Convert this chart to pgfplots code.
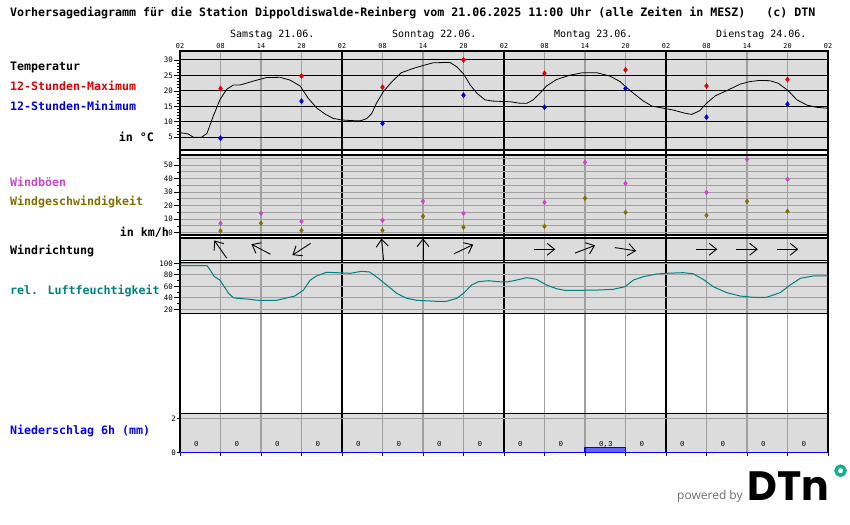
\documentclass[border=0pt]{standalone}
\usepackage{pgfplots}
\pgfplotsset{compat=1.18}
\usepackage{pgfplotstable}
\usepackage{fontspec}
\setmainfont{DejaVu Sans Mono}
\newfontfamily\poweredfont{Open Sans}
\newfontfamily\logofont{Poppins}
\newfontfamily\smallmono{Liberation Mono}
\usetikzlibrary{arrows.meta}

\definecolor{panelgray}{RGB}{220,220,220}
\definecolor{gridgray}{RGB}{160,160,160}
\definecolor{tred}{RGB}{230,0,0}
\definecolor{tblue}{RGB}{0,0,220}
\definecolor{gustmag}{RGB}{204,68,204}
\definecolor{windolive}{RGB}{128,112,0}
\definecolor{humteal}{RGB}{0,128,128}
\definecolor{precblue}{RGB}{0,0,255}
\definecolor{barblue}{RGB}{100,100,255}
\definecolor{dtnteal}{RGB}{20,175,145}
\definecolor{powgray}{RGB}{110,110,110}

\pgfplotstableread{
t T
0 6.5
1.2 6.1
2.0 5.0
3.2 5.0
4.0 6.3
4.9 11.7
5.9 17.1
6.9 20.5
7.9 21.9
8.9 21.9
10.9 23.2
12.8 24.3
14.8 24.4
16.3 23.5
17.8 21.6
19.0 17.6
20.3 14.4
21.5 12.5
22.7 11.1
24.0 10.6
25.5 10.4
26.7 10.3
27.7 11.1
28.4 12.7
29.1 16.0
30.1 19.7
31.4 23.0
32.8 25.9
34.6 27.3
36.0 28.2
37.5 29.1
40.0 29.2
41.0 27.8
42.0 25.5
43.0 21.9
44.0 19.2
45.2 17.1
46.4 16.7
48.9 16.5
50.4 16.0
51.4 16.0
52.3 17.1
53.3 19.2
54.3 21.6
55.8 23.7
57.8 25.1
59.7 25.9
61.7 25.9
63.7 24.8
65.2 23.0
66.2 21.0
67.2 19.2
68.6 16.8
69.9 15.1
71.6 14.4
73.1 13.8
74.8 12.8
75.8 12.4
77.0 13.6
78.0 16.0
79.3 18.4
81.0 20.1
83.0 22.2
84.4 23.0
85.9 23.4
87.4 23.3
88.6 22.5
90.1 20.1
91.4 17.1
92.9 15.4
94.3 14.7
96.0 14.4
}\temptable

\pgfplotstableread{
t max min
6 20.8 4.7
18 24.8 16.7
30 21.2 9.5
42 30.0 18.6
54 25.7 14.7
66 26.8 20.8
78 21.6 11.5
90 23.7 15.7
}\tempmarks

\pgfplotstableread{
t gust speed dir
6 7.0 1.3 125
12 14.4 7.0 152
18 8.4 1.8 213
30 9.2 1.8 95.5
36 23.2 12.1 90
42 14.4 4.0 25.6
54 22.5 4.7 0
60 52.1 25.5 21
66 36.6 15.1 -9
78 29.9 12.9 0
84 54.4 23.2 0
90 39.6 15.9 0
}\windtable

\pgfplotstableread{
t H
0 96
4.0 96
4.4 89.6
5.1 76.7
5.9 71
6.4 62.3
7.2 47.8
7.9 40.2
8.4 39.1
9.9 37.9
11.6 35.6
14.3 35.6
15.8 39.7
17.0 43.1
18.3 53.6
19.3 71
20.3 78.4
21.7 84.3
23.2 83.7
25.2 82.6
26.9 86.1
28.1 84.9
29.4 73.9
30.6 62.3
32.1 47.8
33.6 39.1
35.1 35.6
38.0 33.9
39.5 33.9
41.0 39.1
42.0 47.8
43.2 62.3
44.2 68
45.7 69.7
47.2 68
48.4 67.5
49.4 69.7
51.4 75
52.8 72.2
54.3 62.3
55.8 55.8
57.0 53
59.3 53
62.2 53.6
64.2 54.8
65.9 59.3
67.2 71
68.6 76.7
70.6 81.4
72.1 82.6
74.5 83.7
76.0 81.9
77.5 72.2
79.0 59.3
81.0 48.9
83.0 43.1
84.9 40.9
86.9 40.9
88.9 48.9
90.4 62.3
91.9 73.9
93.8 78
96.0 78
}\humtable

\pgfplotstableread{
t p
0 0
6 0
12 0
18 0
24 0
30 0
36 0
42 0
48 0
54 0
60 0.3
66 0
72 0
78 0
84 0
90 0
96 0
}\prectable

\pgfplotstableread{
t lbl
0 0
6 0
12 0
18 0
24 0
30 0
36 0
42 0
48 0
54 0
60 0,3
66 0
72 0
78 0
84 0
90 0
}\preclabels

\pgfplotsset{
  panel/.style={scale only axis, width=648pt, xmin=0, xmax=96, xtick=\empty,
    anchor=north west, axis line style={black, line width=1.2pt},
    ytick pos=left, tick align=outside, major tick length=6pt, minor tick length=3pt,
    tick style={black, line width=0.8pt},
    yticklabel style={font=\fontsize{7.5}{8}\selectfont, inner sep=1pt},
    /pgf/number format/assume math mode=true},
  vgrid/.style={scale only axis, width=648pt, height=402pt, at={(180pt,-51pt)},
    anchor=north west, xmin=0, xmax=96, ymin=0, ymax=1,
    axis line style={draw=none}, ytick=\empty, major tick length=0pt, xmajorgrids},
}

\begin{document}
\begin{tikzpicture}
\useasboundingbox (0,0) rectangle (850pt,-524pt);
% panel backgrounds
\fill[panelgray] (180pt,-51pt) rectangle (828pt,-150pt);
\fill[panelgray] (180pt,-155pt) rectangle (828pt,-235pt);
\fill[panelgray] (180pt,-238pt) rectangle (828pt,-260.5pt);
\fill[panelgray] (180pt,-262.5pt) rectangle (828pt,-313.5pt);
\fill[panelgray] (180pt,-413.3pt) rectangle (828pt,-452.7pt);

% vertical grid, gray every 6 h with hour labels
\begin{axis}[vgrid, xtick={0,6,...,96},
  xticklabels={02,08,14,20,02,08,14,20,02,08,14,20,02,08,14,20,02},
  xticklabel pos=upper,
  xticklabel style={font=\fontsize{6.8}{7}\selectfont, inner sep=1pt, yshift=1.5pt},
  major grid style={gridgray, line width=1.3pt}]
\end{axis}
% black day separators
\begin{axis}[vgrid, xtick={0,24,...,96}, xticklabels={},
  major grid style={black, line width=1.3pt}]
\end{axis}

% temperature
\begin{axis}[panel, height=99pt, at={(180pt,-51pt)}, ymin=0.9, ymax=32.9,
  ytick={5,10,...,30}, minor y tick num=4, ymajorgrids,
  major grid style={black, line width=1pt}]
\addplot[black, line width=0.8pt] table[x=t, y=T] {\temptable};
\addplot[only marks, mark=diamond*, mark size=2.6pt, color=tred] table[x=t, y=max] {\tempmarks};
\addplot[only marks, mark=diamond*, mark size=2.6pt, color=tblue] table[x=t, y=min] {\tempmarks};
\end{axis}

% wind
\begin{axis}[panel, height=80pt, at={(180pt,-155pt)}, ymin=-1.7, ymax=57.56,
  ytick={0,10,...,50}, minor ytick={5,15,...,55}, ymajorgrids, yminorgrids,
  major grid style={gridgray, line width=1pt}, minor grid style={gridgray, line width=1pt}]
\addplot[only marks, mark=diamond*, mark size=2.4pt, color=gustmag] table[x=t, y=gust] {\windtable};
\addplot[only marks, mark=diamond*, mark size=2.4pt, color=windolive] table[x=t, y=speed] {\windtable};
\end{axis}

% wind direction
\begin{axis}[panel, height=22.5pt, at={(180pt,-238pt)}, ymin=-1.667, ymax=1.667, ytick=\empty]
\addplot[black, line width=0.9pt, -{Straight Barb[length=7.5pt,width=12pt]},
  quiver={u=3.2*cos(\thisrow{dir}), v=3.2*sin(\thisrow{dir})}]
  table[x expr=\thisrow{t}-1.6*cos(\thisrow{dir}), y expr=-1.6*sin(\thisrow{dir})] {\windtable};
\end{axis}

% humidity
\begin{axis}[panel, height=51pt, at={(180pt,-262.5pt)}, ymin=12.7, ymax=101.4,
  ytick={20,40,...,100}, minor ytick={30,50,70,90}, ymajorgrids,
  major grid style={gridgray, line width=1pt}]
\addplot[humteal, line width=1pt] table[x=t, y=H] {\humtable};
\end{axis}

% precipitation
\begin{axis}[panel, height=39.4pt, at={(180pt,-413.3pt)}, ymin=0, ymax=2.29,
  ytick={0,2}, ymajorgrids, major grid style={gridgray, line width=1pt},
  xtick={0,6,...,96}, xticklabels={}, xtick pos=lower, major tick length=3pt,
  xtick style={precblue, line width=1pt}, clip=false]
\addplot[ybar interval, fill=barblue, draw=precblue, line width=1.5pt] table[x=t, y=p] {\prectable};
\addplot[draw=none, mark=none, nodes near coords, point meta=explicit symbolic,
  nodes near coords align={anchor=west},
  every node near coord/.append style={font=\smallmono\fontsize{7.5}{8}\selectfont, inner sep=0pt, black}]
  table[x expr=\thisrow{t}+2.07, y expr=0.48, meta=lbl] {\preclabels};
\end{axis}

% texts
\node[anchor=base west, inner sep=0pt, font=\fontsize{11.63}{13}\selectfont\bfseries]
  at (10pt,-16.7pt) {Vorhersagediagramm für die Station Dippoldiswalde-Reinberg vom 21.06.2025 11:00 Uhr (alle Zeiten in MESZ)\ \ \ (c) DTN};
\foreach \xx/\dd in {230/Samstag 21.06., 392/Sonntag 22.06., 554/Montag 23.06., 716/Dienstag 24.06.}
  \node[anchor=base west, inner sep=0pt, font=\fontsize{10}{11}\selectfont] at (\xx pt,-37.3pt) {\dd};
\begin{scope}[every node/.style={inner sep=0pt, font=\fontsize{11.63}{13}\selectfont\bfseries}]
\node[anchor=base west] at (10pt,-71pt) {Temperatur};
\node[anchor=base west, text=tred] at (10pt,-91pt) {12-Stunden-Maximum};
\node[anchor=base west, text=tblue] at (10pt,-110.5pt) {12-Stunden-Minimum};
\node[anchor=base east] at (154pt,-141pt) {in °C};
\node[anchor=base west, text=gustmag] at (10pt,-186pt) {Windböen};
\node[anchor=base west, text=windolive] at (10pt,-205pt) {Windgeschwindigkeit};
\node[anchor=base east] at (169pt,-236pt) {in km/h};
\node[anchor=base west] at (10pt,-254pt) {Windrichtung};
\node[anchor=base west, text=humteal] at (10pt,-294pt) {rel. Luftfeuchtigkeit};
\node[anchor=base west, text=precblue] at (10pt,-434pt) {Niederschlag 6h (mm)};
\end{scope}
% logo
\node[anchor=base west, inner sep=0pt, text=powgray, font=\poweredfont\fontsize{12}{13}\selectfont] at (677pt,-499pt) {powered by};
\node[anchor=base west, inner sep=0pt, font=\logofont\bfseries\fontsize{41}{42}\selectfont] at (747pt,-500pt) {DTn};
\draw[dtnteal, line width=3.5pt] (840.5pt,-470.7pt) circle (4.5pt);
\end{tikzpicture}
\end{document}
